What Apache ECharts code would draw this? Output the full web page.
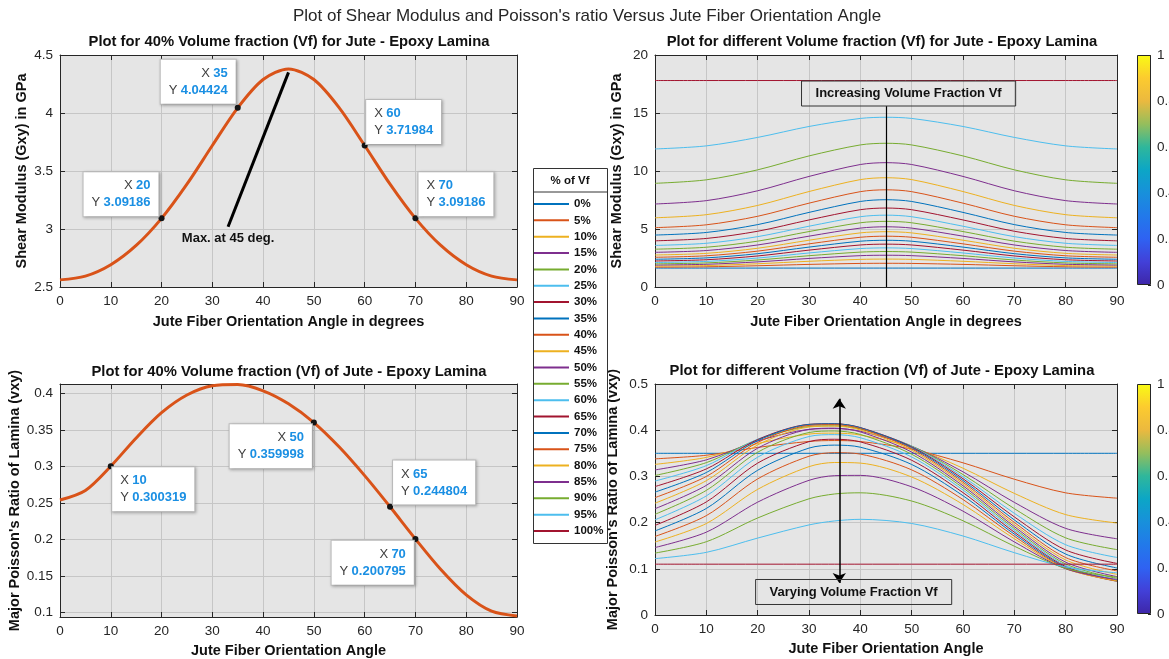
<!DOCTYPE html>
<html>
<head>
<meta charset="utf-8">
<script src="https://cdn.jsdelivr.net/npm/echarts@6/dist/echarts.min.js"></script>
<style>
html,body{margin:0;padding:0;background:#fff;}
#chart{width:1169px;height:659px;}
</style>
</head>
<body>
<div id="chart"></div>
<script>
// ---------------- DATA ----------------
const angle5 = [0,5,10,15,20,25,30,35,40,45,50,55,60,65,70,75,80,85,90];
const gxy40 = [2.5614,2.5939,2.6922,2.8581,3.09186,3.3866,3.7198,4.04424,4.2883,4.3802,4.2883,4.0442,3.71984,3.3866,3.09186,2.8581,2.6922,2.5939,2.5614];
const nuxy40 = [0.254,0.2671,0.300319,0.3390,0.3735,0.3977,0.4104,0.4120,0.4035,0.3857,0.359998,0.3265,0.2874,0.244804,0.200795,0.1590,0.1243,0.1020,0.0955];
const gTips = [[20,3.09186],[35,4.04424],[60,3.71984],[70,3.09186]];
const nuTips = [[10,0.300319],[50,0.359998],[65,0.244804],[70,0.200795]];

const angleG = [0,10,20,30,40,45,50,60,70,80,90];
const angleNu = [0,10,20,30,35,40,50,60,70,80,90];
const vfLabels = ['0%','5%','10%','15%','20%','25%','30%','35%','40%','45%','50%','55%','60%','65%','70%','75%','80%','85%','90%','95%','100%'];

const g00 = [1.631,1.631,1.631,1.631,1.631,1.631,1.631,1.631,1.631,1.631,1.631];
const g05 = [1.708,1.742,1.833,1.949,2.032,2.044,2.032,1.949,1.833,1.742,1.708];
const g10 = [1.794,1.849,2.004,2.217,2.381,2.406,2.381,2.217,2.004,1.849,1.794];
const g15 = [1.888,1.959,2.166,2.461,2.702,2.738,2.702,2.461,2.166,1.959,1.888];
const g20 = [1.993,2.077,2.328,2.697,3.008,3.057,3.008,2.697,2.328,2.077,1.993];
const g25 = [2.110,2.207,2.496,2.934,3.313,3.372,3.313,2.934,2.496,2.207,2.110];
const g30 = [2.242,2.350,2.676,3.179,3.623,3.694,3.623,3.179,2.676,2.350,2.242];
const g35 = [2.391,2.510,2.873,3.439,3.947,4.028,3.947,3.439,2.873,2.510,2.391];
const g40 = [2.561,2.692,3.092,3.720,4.288,4.380,4.288,3.720,3.092,2.692,2.561];
const g45 = [2.758,2.901,3.340,4.033,4.665,4.768,4.665,4.033,3.340,2.901,2.758];
const g50 = [2.988,3.144,3.623,4.382,5.077,5.190,5.077,4.382,3.623,3.144,2.988];
const g55 = [3.259,3.429,3.952,4.780,5.537,5.660,5.537,4.780,3.952,3.429,3.259];
const g60 = [3.584,3.770,4.340,5.240,6.060,6.193,6.060,5.240,4.340,3.770,3.584];
const g65 = [3.982,4.185,4.806,5.781,6.664,6.807,6.664,5.781,4.806,4.185,3.982];
const g70 = [4.478,4.701,5.378,6.431,7.373,7.524,7.373,6.431,5.378,4.701,4.478];
const g75 = [5.117,5.361,6.097,7.227,8.220,8.379,8.220,7.227,6.097,5.361,5.117];
const g80 = [5.967,6.234,7.032,8.229,9.258,9.419,9.258,8.229,7.032,6.234,5.967];
const g85 = [7.156,7.446,8.295,9.532,10.559,10.718,10.559,9.532,8.295,7.446,7.156];
const g90 = [8.938,9.239,10.101,11.299,12.248,12.391,12.248,11.299,10.101,9.239,8.938];
const g95 = [11.900,12.166,12.895,13.838,14.532,14.632,14.532,13.838,12.895,12.166,11.900];
const g100 = [17.8,17.8,17.8,17.8,17.8,17.8,17.8,17.8,17.8,17.8,17.8];

const n00 = [0.35,0.35,0.35,0.35,0.35,0.35,0.35,0.35,0.35,0.35,0.35];
const n05 = [0.338,0.3458,0.3627,0.3757,0.3776,0.3755,0.3591,0.3294,0.2939,0.2644,0.2529];
const n10 = [0.326,0.3411,0.3712,0.3916,0.3937,0.3895,0.3633,0.3177,0.2632,0.2173,0.1991];
const n15 = [0.314,0.3358,0.3766,0.4017,0.4035,0.3978,0.3652,0.3099,0.2438,0.1875,0.1650];
const n20 = [0.302,0.3298,0.3796,0.4079,0.4095,0.4025,0.3657,0.3040,0.2302,0.1670,0.1415];
const n25 = [0.290,0.3233,0.3805,0.4114,0.4128,0.4050,0.3652,0.2992,0.2201,0.1521,0.1245];
const n30 = [0.278,0.3162,0.3797,0.4128,0.4141,0.4058,0.3640,0.2950,0.2123,0.1407,0.1117];
const n35 = [0.266,0.3084,0.3774,0.4124,0.4138,0.4053,0.3622,0.2912,0.2058,0.1319,0.1018];
const n40 = [0.254,0.2999,0.3735,0.4104,0.4120,0.4035,0.3597,0.2874,0.2004,0.1243,0.0955];
const n45 = [0.242,0.2907,0.3680,0.4069,0.4089,0.4005,0.3566,0.2836,0.1956,0.1191,0.0879];
const n50 = [0.230,0.2806,0.3610,0.4018,0.4044,0.3963,0.3527,0.2797,0.1913,0.1143,0.0830];
const n55 = [0.218,0.2697,0.3523,0.3950,0.3983,0.3908,0.3480,0.2753,0.1872,0.1104,0.0792];
const n60 = [0.206,0.2578,0.3416,0.3863,0.3904,0.3837,0.3421,0.2705,0.1833,0.1073,0.0763];
const n65 = [0.194,0.2448,0.3288,0.3752,0.3804,0.3747,0.3349,0.2649,0.1793,0.1047,0.0743];
const n70 = [0.182,0.2306,0.3133,0.3613,0.3677,0.3632,0.3258,0.2582,0.1751,0.1026,0.0732];
const n75 = [0.170,0.2151,0.2946,0.3437,0.3513,0.3483,0.3141,0.2499,0.1705,0.1012,0.0730];
const n80 = [0.158,0.1980,0.2720,0.3211,0.3301,0.3288,0.2987,0.2393,0.1650,0.1003,0.0740];
const n85 = [0.146,0.1793,0.2443,0.2915,0.3016,0.3022,0.2775,0.2248,0.1582,0.1001,0.0767];
const n90 = [0.134,0.1586,0.2100,0.2515,0.2620,0.2645,0.2467,0.2040,0.1489,0.1010,0.0818];
const n95 = [0.122,0.1356,0.1665,0.1950,0.2036,0.2071,0.1981,0.1710,0.1349,0.1038,0.0913];
const n100 = [0.11,0.11,0.11,0.11,0.11,0.11,0.11,0.11,0.11,0.11,0.11];

const gSets = [g00,g05,g10,g15,g20,g25,g30,g35,g40,g45,g50,g55,g60,g65,g70,g75,g80,g85,g90,g95,g100];
const nSets = [n00,n05,n10,n15,n20,n25,n30,n35,n40,n45,n50,n55,n60,n65,n70,n75,n80,n85,n90,n95,n100];
const colorbarTicks = [0,0.2,0.4,0.6,0.8,1];

// ---------------- STYLE ----------------
const FONT = '"Liberation Sans", Arial, Helvetica, sans-serif';
const INK = '#262626';
const SMOOTH = 0.3;
const colorOrder = ['#0072BD','#D95319','#EDB120','#7E2F8E','#77AC30','#4DBEEE','#A2142F'];
const parula = [
  [0,'#3E26A8'],[0.1,'#4240D8'],[0.2,'#2F62F2'],[0.3,'#2279EA'],[0.4,'#1890DB'],
  [0.5,'#0CA6C6'],[0.6,'#2FB79B'],[0.7,'#95BE5C'],[0.8,'#EBB93F'],[0.9,'#FCCB2F'],[1,'#F9FB14']
];

const grids = [
  {left:60, top:55, width:457, height:232},
  {left:60, top:384, width:457, height:233},
  {left:655, top:55, width:462, height:232},
  {left:655, top:384, width:462, height:231},
  {left:1137, top:55, width:14, height:230},
  {left:1137, top:384, width:14, height:230}
];

const axCfg = [
  {x:{name:'Jute Fiber Orientation Angle in degrees', nameGap:27},
   y:{min:2.5, max:4.5, interval:0.5, name:'Shear Modulus (Gxy) in GPa', nameGap:31}},
  {x:{name:'Jute Fiber Orientation Angle', nameGap:26},
   y:{min:0.094, max:0.4128, minInterval:0.05, maxInterval:0.05, splitNumber:6, name:"Major Poisson's Ratio of Lamina (vxy)", nameGap:37}},
  {x:{name:'Jute Fiber Orientation Angle in degrees', nameGap:27},
   y:{min:0, max:20, interval:5, name:'Shear Modulus (Gxy) in GPa', nameGap:31}},
  {x:{name:'Jute Fiber Orientation Angle', nameGap:26},
   y:{min:0, max:0.5, interval:0.1, name:"Major Poisson's Ratio of Lamina (vxy)", nameGap:35}}
];

function ax(extra, labels) {
  return Object.assign({
    type:'value',
    axisLine:{show:true, onZero:false, lineStyle:{color:INK, width:1}},
    axisTick:{show:true, inside:true, length:5, lineStyle:{color:INK, width:1}},
    splitLine:{show:labels, lineStyle:{color:'#c6c6c6', width:1}},
    axisLabel:{show:labels, color:INK, fontSize:13.5, fontFamily:FONT, margin:7,
      showMinLabel: extra.minInterval ? false : null, showMaxLabel: extra.minInterval ? false : null},
    nameLocation:'middle',
    nameTextStyle:{color:'#111', fontSize:14.5, fontWeight:'bold', fontFamily:FONT}
  }, extra);
}

const xAxes = [], yAxes = [];
axCfg.forEach((c, g) => {
  xAxes.push(ax({gridIndex:g, position:'bottom', min:0, max:90, interval:10, name:c.x.name, nameGap:c.x.nameGap}, true));
  xAxes.push(ax({gridIndex:g, position:'top', min:0, max:90, interval:10}, false));
  const yb = {gridIndex:g, min:c.y.min, max:c.y.max};
  if (c.y.interval) yb.interval = c.y.interval;
  if (c.y.minInterval) { yb.minInterval = c.y.minInterval; yb.maxInterval = c.y.maxInterval; yb.splitNumber = c.y.splitNumber; }
  yAxes.push(ax(Object.assign({position:'left', name:c.y.name, nameGap:c.y.nameGap}, yb), true));
  yAxes.push(ax(Object.assign({position:'right'}, yb), false));
});
// colorbar axes
[4,5].forEach(g => {
  xAxes.push({type:'category', gridIndex:g, data:['c'], show:false});
  yAxes.push({type:'value', gridIndex:g, position:'right', min:colorbarTicks[0], max:colorbarTicks[colorbarTicks.length-1], interval:colorbarTicks[1]-colorbarTicks[0],
    axisLine:{show:false}, splitLine:{show:false},
    axisTick:{show:true, inside:true, length:3, lineStyle:{color:INK}},
    axisLabel:{show:true, color:INK, fontSize:13.5, fontFamily:FONT, margin:6}});
});

// datatip helper
function tip(x, y, pos, align, valign) {
  return {
    coord:[x, y], symbol:'circle', symbolSize:6, itemStyle:{color:'#151515'},
    label:{show:true, position:pos, align:align, verticalAlign:valign,
      formatter:'{l|X} {v|' + x + '}\n{l|Y} {v|' + y + '}',
      backgroundColor:'#ffffff', borderColor:'#bdbdbd', borderWidth:1, padding:[5,8,5,8],
      shadowBlur:3, shadowColor:'rgba(0,0,0,0.25)', shadowOffsetX:1, shadowOffsetY:1,
      rich:{
        l:{color:'#404040', fontSize:13, fontFamily:FONT, lineHeight:17},
        v:{color:'#1a8fe3', fontSize:13, fontWeight:'bold', fontFamily:FONT, lineHeight:17}
      }}
  };
}
function noteBox(x, y, text, bordered, size) {
  return {
    coord:[x, y], symbol:'circle', symbolSize:1, itemStyle:{color:'rgba(0,0,0,0)'},
    label:{show:true, position:'inside', align:'center', verticalAlign:'middle', formatter:text,
      color:'#111', fontSize:size, fontWeight:'bold', fontFamily:FONT,
      borderColor: bordered ? '#333' : 'transparent', borderWidth: bordered ? 1 : 0,
      padding: bordered ? [6,14,6,14] : 0}
  };
}

const gTipPos = [[[0,1],'right','bottom'],[[1,-1],'right','bottom'],[[4.5,1.5],'left','bottom'],[[6,1],'left','bottom']];
const nTipPos = [[[4.4,4],'left','top'],[[1,4.6],'right','top'],[[6,0.7],'left','bottom'],[[1.4,4.8],'right','top']];

const series = [];
series.push({
  type:'line', name:'Gxy 40%', xAxisIndex:0, yAxisIndex:0, smooth:SMOOTH, showSymbol:false,
  data: angle5.map((a,i)=>[a, gxy40[i]]),
  lineStyle:{color:'#D95319', width:3}, itemStyle:{color:'#D95319'}, z:3,
  markPoint:{silent:true, animation:false, data: gTips.map((t,i)=>tip(t[0], t[1], gTipPos[i][0], gTipPos[i][1], gTipPos[i][2])).concat([noteBox(33.1, 2.92, 'Max. at 45 deg.', false, 13)])},
  markLine:{silent:true, animation:false, symbol:['none','arrow'], symbolSize:[0,12], label:{show:false},
    lineStyle:{color:'#000', width:3, type:'solid'},
    data:[[{coord:[33.1,3.02]},{coord:[45,4.35]}]]}
});
series.push({
  type:'line', name:'nu 40%', xAxisIndex:2, yAxisIndex:2, smooth:SMOOTH, showSymbol:false,
  data: angle5.map((a,i)=>[a, nuxy40[i]]),
  lineStyle:{color:'#D95319', width:3}, itemStyle:{color:'#D95319'}, z:3,
  markPoint:{silent:true, animation:false, data: nuTips.map((t,i)=>tip(t[0], t[1], nTipPos[i][0], nTipPos[i][1], nTipPos[i][2]))}
});
gSets.forEach((arr, k) => {
  const s = {
    type:'line', name:vfLabels[k], xAxisIndex:4, yAxisIndex:4, smooth:SMOOTH, showSymbol:false,
    data: angleG.map((a,i)=>[a, arr[i]]),
    lineStyle:{color:colorOrder[k%7], width:1}, itemStyle:{color:colorOrder[k%7]}
  };
  if (k === 0) {
    s.markLine = {silent:true, animation:false, symbol:['none','arrow'], symbolSize:[0,11], label:{show:false},
      lineStyle:{color:'#000', width:1.2, type:'solid'}, data:[[{coord:[45,0]},{coord:[45,15.6]}]]};
    s.markPoint = {silent:true, animation:false, data:[noteBox(49.4, 16.68, 'Increasing Volume Fraction Vf', true, 13)]};
  }
  series.push(s);
});
nSets.forEach((arr, k) => {
  const s = {
    type:'line', name:vfLabels[k], xAxisIndex:6, yAxisIndex:6, smooth:SMOOTH, showSymbol:false,
    data: angleNu.map((a,i)=>[a, arr[i]]),
    lineStyle:{color:colorOrder[k%7], width:1}, itemStyle:{color:colorOrder[k%7]}
  };
  if (k === 0) {
    s.markLine = {silent:true, animation:false, symbol:['arrow','arrow'], symbolSize:10, label:{show:false},
      lineStyle:{color:'#000', width:1.5, type:'solid'}, data:[[{coord:[35.9,0.069]},{coord:[35.9,0.468]}]]};
    s.markPoint = {silent:true, animation:false, data:[noteBox(38.7, 0.0498, 'Varying Volume Fraction Vf', true, 13)]};
  }
  series.push(s);
});
[8,9].forEach(i => {
  series.push({
    type:'bar', name:'colorbar', xAxisIndex:i, yAxisIndex:i, data:[1], barWidth:'100%', silent:true,
    itemStyle:{color:new echarts.graphic.LinearGradient(0,1,0,0, parula.map(p=>({offset:p[0], color:p[1]}))),
      borderColor:INK, borderWidth:1}
  });
});

const titleStyle = {color:'#111', fontSize:14.8, fontWeight:'bold', fontFamily:FONT};
const option = {
  animation:false,
  backgroundColor:'#ffffff',
  title:[
    {text:"Plot of Shear Modulus and Poisson's ratio Versus Jute Fiber Orientation Angle", left:587, top:8, textAlign:'center', padding:0,
      textStyle:{color:INK, fontSize:17, fontWeight:'normal', fontFamily:FONT}},
    {text:'Plot for 40% Volume fraction (Vf) for Jute - Epoxy Lamina', left:289, top:34, textAlign:'center', padding:0, textStyle:titleStyle},
    {text:'Plot for 40% Volume fraction (Vf) of Jute - Epoxy Lamina', left:289, top:364, textAlign:'center', padding:0, textStyle:titleStyle},
    {text:'Plot for different Volume fraction (Vf) for Jute - Epoxy Lamina', left:882, top:34, textAlign:'center', padding:0, textStyle:titleStyle},
    {text:'Plot for different Volume fraction (Vf) of Jute - Epoxy Lamina', left:882, top:363, textAlign:'center', padding:0, textStyle:titleStyle}
  ],
  grid: grids.map((g,i)=>Object.assign({show:true, backgroundColor: i<4 ? '#e5e5e5' : 'transparent', borderWidth:0, outerBoundsMode:'none', containLabel:false}, g)),
  xAxis:xAxes,
  yAxis:yAxes,
  legend:{
    data:vfLabels, orient:'vertical', left:534, top:197, padding:0, z:10,
    itemWidth:35, itemHeight:2, itemGap:2.35, icon:'rect', selectedMode:false,
    textStyle:{fontSize:11.5, fontWeight:'bold', color:'#111', fontFamily:FONT, lineHeight:14}
  },
  graphic:[
    {type:'rect', left:533, top:168, z:1, shape:{width:74, height:375}, style:{fill:'#fff', stroke:'#333', lineWidth:1}},
    {type:'line', z:2, shape:{x1:533, y1:192, x2:607, y2:192}, style:{stroke:'#333', lineWidth:1}},
    {type:'text', z:2, x:570, y:175, style:{text:'% of Vf', font:'bold 11.5px ' + FONT, fill:'#111', textAlign:'center'}}
  ],
  series:series
};
const myChart = echarts.init(document.getElementById('chart'), null, {renderer:'canvas'});
myChart.setOption(option);
</script>
</body>
</html>
